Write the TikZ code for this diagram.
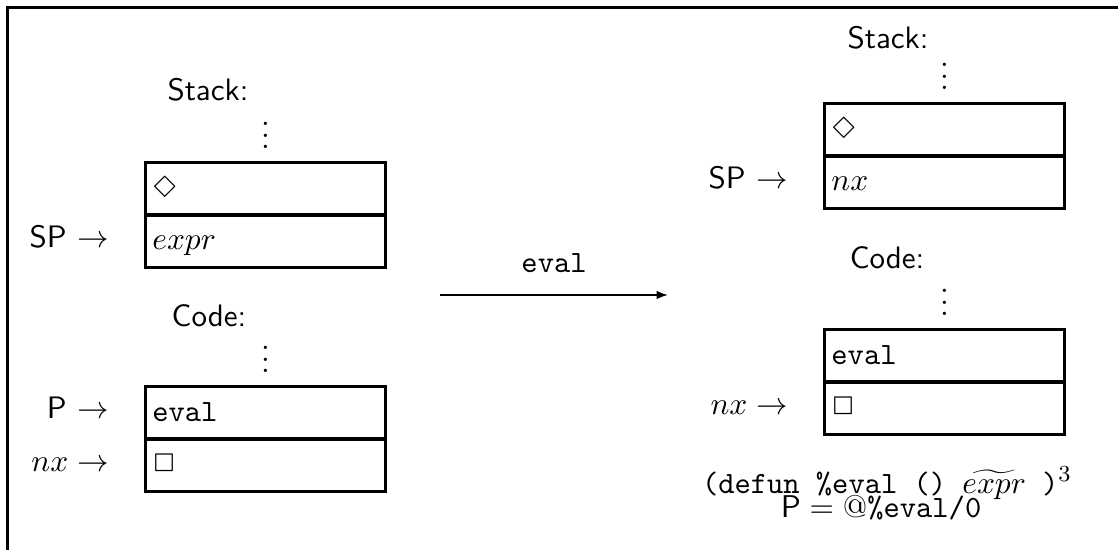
\documentclass[tikz,border=0pt]{standalone}
\usepackage{latexsym}
\usetikzlibrary{positioning,arrows.meta}
\renewcommand{\familydefault}{\sfdefault}
\newcommand{\celldots}{\vbox{\baselineskip4pt\lineskiplimit0pt\hbox{$.$}\hbox{$.$}\hbox{$.$}}}

\begin{document}
\fontsize{10.8}{13}\selectfont
\begin{tikzpicture}[>={Latex[length=4pt,width=3pt]},
  cell/.style={draw,line width=1pt,rectangle,text width=2.77cm,inner xsep=2.5pt,
    minimum height=0.54cm,text height=8.5pt,text depth=2.5pt,align=left},
  vdot/.style={inner sep=0pt},
  ptr/.style={anchor=base east},
  head/.style={anchor=base}]
\useasboundingbox (0,0) rectangle (13.69,-6.735);
\draw[line width=1pt] (0.092,-6.735) -- (0.092,-0.092) -- (13.69,-0.092);
% before
\node[head] (stackL) at (2.547,-1.225) {Stack:};
\node[cell] (stkA) at (3.251,-2.308) {$\Diamond$};
\node[cell,below=-0.8pt of stkA] (stkB) {$expr$};
\node[vdot,above=4pt of stkA] (dotsSL) {\celldots};
\node[ptr] (spL) at ([xshift=-8.5pt,yshift=-2pt]stkB.west) {SP $\rightarrow$};
\node[head] (codeL) at (2.559,-4.004) {Code:};
\node[cell] (cdA) at (3.251,-5.051) {\texttt{eval}};
\node[cell,below=-0.8pt of cdA] (cdB) {$\Box$};
\node[vdot,above=4pt of cdA] (dotsCL) {\celldots};
\node[ptr] (pL) at ([xshift=-8.5pt,yshift=-2pt]cdA.west) {P $\rightarrow$};
\node[ptr] (nxL) at ([xshift=-8.5pt,yshift=-2pt]cdB.west) {$nx\rightarrow$};
% step
\coordinate (evalfrom) at (5.388,-3.612);
\coordinate (evalto) at (8.18,-3.612);
\draw[->,semithick] (evalfrom) -- (evalto) node[midway,above=3.7pt] (evallbl) {\texttt{eval}};
% after
\node[head] (stackR) at (10.874,-0.588) {Stack:};
\node[cell] (nstkA) at (11.566,-1.586) {$\Diamond$};
\node[cell,below=-0.8pt of nstkA] (nstkB) {$nx$};
\node[vdot,above=4pt of nstkA] (dotsSR) {\celldots};
\node[ptr] (spR) at ([xshift=-8.5pt,yshift=-2pt]nstkB.west) {SP $\rightarrow$};
\node[head] (codeR) at (10.862,-3.282) {Code:};
\node[cell] (ncdA) at (11.566,-4.353) {\texttt{eval}};
\node[cell,below=-0.8pt of ncdA] (ncdB) {$\Box$};
\node[vdot,above=4pt of ncdA] (dotsCR) {\celldots};
\node[ptr] (nxR) at ([xshift=-8.5pt,yshift=-2pt]ncdB.west) {$nx\rightarrow$};
\node[head] (defun) at (10.862,-6.037) {\texttt{(defun \%eval () }$\widetilde{expr}$\texttt{\ )}$^3$};
\node[head] (pval) at (10.789,-6.331) {$\mathsf{P} = @$\texttt{\%eval/0}};
\end{tikzpicture}
\end{document}
